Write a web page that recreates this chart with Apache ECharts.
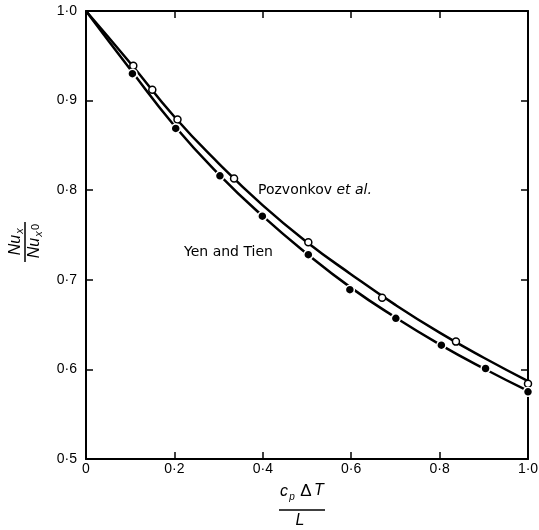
<!DOCTYPE html>
<html>
<head>
<meta charset="utf-8">
<script src="https://cdn.jsdelivr.net/npm/echarts@6/dist/echarts.min.js"></script>
<style>
html, body { margin: 0; padding: 0; background: #fff; }
#main { width: 539px; height: 530px; }
</style>
</head>
<body>
<div id="main"></div>
<script>
// tick values and their printed labels
var xTicks = [0, 0.2, 0.4, 0.6, 0.8, 1.0];
var xTickLabels = ['0', '0·2', '0·4', '0·6', '0·8', '1·0'];
var yTicks = [0.5, 0.6, 0.7, 0.8, 0.9, 1.0];
var yTickLabels = ['0·5', '0·6', '0·7', '0·8', '0·9', '1·0'];

// Pozvonkov et al. (open circles)
var pozX = [0.107, 0.150, 0.207, 0.335, 0.503, 0.670, 0.837, 1.0];
var pozY = [0.939, 0.912, 0.879, 0.813, 0.742, 0.680, 0.631, 0.584];
// Yen and Tien (filled circles)
var yenX = [0.105, 0.203, 0.303, 0.399, 0.503, 0.597, 0.701, 0.804, 0.904, 1.0];
var yenY = [0.930, 0.869, 0.816, 0.771, 0.728, 0.689, 0.657, 0.627, 0.601, 0.575];

// the two drawn curves
var curveX = [0, 0.1, 0.2, 0.3, 0.4, 0.5, 0.6, 0.7, 0.8, 0.9, 1.0];
var pozCurve = [1.0, 0.942, 0.882, 0.830, 0.783, 0.742, 0.706, 0.672, 0.641, 0.613, 0.587];
var yenCurve = [1.0, 0.935, 0.872, 0.818, 0.771, 0.729, 0.691, 0.658, 0.628, 0.601, 0.576];

function pairs(xs, ys) {
    return xs.map(function (x, i) { return [x, ys[i]]; });
}

function tickLabel(ticks, labels) {
    return function (v) {
        for (var i = 0; i < ticks.length; i++) {
            if (Math.abs(ticks[i] - v) < 1e-6) return labels[i];
        }
        return '';
    };
}

var FONT = '"Liberation Sans", Arial, sans-serif';
var NOTE_FONT = '"DejaVu Sans", sans-serif';
var axisLine = { show: true, onZero: false, lineStyle: { color: '#000', width: 2 } };
var axisTick = { show: true, inside: true, length: 7, lineStyle: { color: '#000', width: 1.5 } };

function txt(s, x, y, size, italic) {
    return {
        type: 'text',
        style: {
            text: s, x: x, y: y,
            font: (italic ? 'italic ' : '') + size + 'px ' + FONT,
            fill: '#000',
            textAlign: 'center', textVerticalAlign: 'middle',
            align: 'center', verticalAlign: 'middle'
        }
    };
}

var chart = echarts.init(document.getElementById('main'));

var option = {
    animation: false,
    backgroundColor: '#fff',
    grid: { left: 86, right: 11, top: 11, bottom: 71, outerBoundsMode: 'none' },
    xAxis: [{
        type: 'value', min: 0, max: 1, interval: 0.2, position: 'bottom',
        axisLine: axisLine, axisTick: axisTick, splitLine: { show: false },
        axisLabel: {
            color: '#000', fontSize: 14, fontFamily: FONT, margin: 3,
            formatter: tickLabel(xTicks, xTickLabels)
        }
    }, {
        type: 'value', min: 0, max: 1, interval: 0.2, position: 'top',
        axisLine: axisLine, axisTick: axisTick, splitLine: { show: false },
        axisLabel: { show: false }
    }],
    yAxis: [{
        type: 'value', min: 0.5, max: 1.0, interval: 0.1, position: 'left',
        axisLine: axisLine, axisTick: axisTick, splitLine: { show: false },
        axisLabel: {
            color: '#000', fontSize: 14, fontFamily: FONT, margin: 9,
            formatter: tickLabel(yTicks, yTickLabels)
        }
    }, {
        type: 'value', min: 0.5, max: 1.0, interval: 0.1, position: 'right',
        axisLine: axisLine, axisTick: axisTick, splitLine: { show: false },
        axisLabel: { show: false }
    }],
    series: [{
        type: 'line', smooth: true, showSymbol: false, z: 2,
        data: pairs(curveX, pozCurve),
        lineStyle: { color: '#000', width: 2.5 }
    }, {
        type: 'line', smooth: true, showSymbol: false, z: 2,
        data: pairs(curveX, yenCurve),
        lineStyle: { color: '#000', width: 2.5 }
    }, {
        type: 'scatter', z: 3, symbol: 'circle', symbolSize: 7,
        data: pairs(pozX, pozY),
        itemStyle: { color: '#fff', borderColor: '#000', borderWidth: 1.5, opacity: 1 }
    }, {
        type: 'scatter', z: 3, symbol: 'circle', symbolSize: 9,
        data: pairs(yenX, yenY),
        itemStyle: { color: '#000', borderColor: '#fff', borderWidth: 1.5, opacity: 1 }
    }],
    graphic: [{
        type: 'text', left: 258, top: 183,
        style: {
            text: '{a|Pozvonkov }{b|et al.}',
            rich: {
                a: { fontSize: 14, fontFamily: NOTE_FONT, fill: '#000', color: '#000' },
                b: { fontSize: 14, fontFamily: NOTE_FONT, fontStyle: 'italic', fill: '#000', color: '#000' }
            }
        }
    }, {
        type: 'text', left: 184, top: 245,
        style: { text: 'Yen and Tien', font: '14px ' + NOTE_FONT, fill: '#000' }
    }, {
        // y-axis title: Nu_x / Nu_x0, rotated
        type: 'group', x: 25, y: 242, rotation: Math.PI / 2,
        children: [
            txt('Nu', -3, -9, 16, true),
            txt('x', 11, -5, 11, true),
            { type: 'line', shape: { x1: -20, y1: 0, x2: 20, y2: 0 }, style: { stroke: '#000', lineWidth: 1.5 } },
            txt('Nu', -6, 10, 16, true),
            txt('x', 8, 14, 11, true),
            txt('0', 15, 11, 11, false)
        ]
    }, {
        // x-axis title: c_p ΔT / L
        type: 'group', x: 302, y: 510,
        children: [
            txt('c', -18, -18, 16, true),
            txt('p', -10, -13, 10, true),
            txt('Δ', 4, -19, 17, false),
            txt('T', 17, -19, 16, true),
            { type: 'line', shape: { x1: -23, y1: 0, x2: 23, y2: 0 }, style: { stroke: '#000', lineWidth: 1.5 } },
            txt('L', -2, 11, 16, true)
        ]
    }]
};

chart.setOption(option);
</script>
</body>
</html>
